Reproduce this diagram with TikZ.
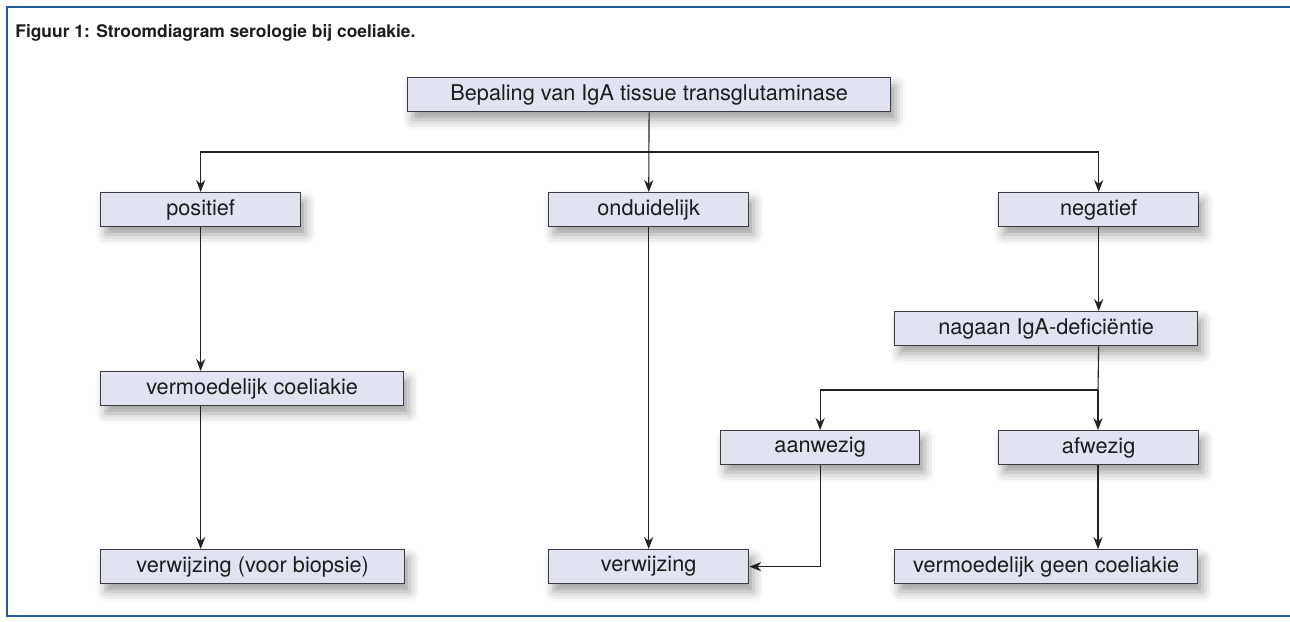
\documentclass[tikz,border=0pt]{standalone}
\usepackage{fontspec}
\setmainfont{TeX Gyre Heros}
\usepackage{tikz}
\usetikzlibrary{positioning,arrows.meta,shadows.blur}

\definecolor{boxfill}{RGB}{225,227,240}
\definecolor{boxline}{RGB}{60,60,62}
\definecolor{frameblue}{RGB}{36,94,160}
\definecolor{linegray}{RGB}{35,35,35}
\definecolor{textgray}{RGB}{28,28,28}

\begin{document}
\begin{tikzpicture}[
    x=0.5pt, y=-0.5pt,
    stage/.style={draw=boxline, fill=boxfill, line width=0.65pt, text=textgray,
                  anchor=north west, inner sep=0pt, minimum height=17pt,
                  font=\fontsize{10.85}{13}\selectfont,
                  blur shadow={shadow xshift=2.5pt, shadow yshift=-4pt,
                               shadow blur radius=5pt, shadow opacity=38}},
    flow/.style={-{Stealth[length=6pt,width=4.6pt]}, line width=0.55pt, linegray},
    link/.style={line width=0.55pt, linegray},
    frame/.style={frameblue, line width=1.1pt}
]
\useasboundingbox (0,0) rectangle (1290,621);

% Frame and caption
\draw[frame] (1290,7) -- (7,7) -- (7,616) -- (1290,616);
\node[anchor=base west, inner sep=0pt, text=textgray,
      font=\fontsize{8.7}{10}\selectfont\bfseries]
    (caption) at (15,37) {Figuur 1: Stroomdiagram serologie bij coeliakie.};

% Test
\node[stage, minimum width=241.5pt] (test) at (407,77) {Bepaling van IgA tissue transglutaminase};

% Results
\node[stage, minimum width=100pt] (pos) at (100,192) {positief};
\node[stage, minimum width=100pt] (unclear) at (548,192) {onduidelijk};
\node[stage, minimum width=100pt] (neg) at (998,192) {negatief};

% Follow-up
\node[stage, minimum width=151.5pt] (probable) at (100,371) {vermoedelijk coeliakie};
\node[stage, minimum width=151.5pt] (igacheck) at (894,311) {nagaan IgA-deficiëntie};
\node[stage, minimum width=99.5pt] (present) at (720,430) {aanwezig};
\node[stage, minimum width=100pt] (absent) at (998,430) {afwezig};

% Outcomes
\node[stage, minimum width=152pt] (biopsy) at (100,549) {verwijzing (voor biopsie)};
\node[stage, minimum width=100pt] (refer) at (548,549) {verwijzing};
\node[stage, minimum width=151.5pt] (noceliac) at (894,549) {vermoedelijk geen coeliakie};

% Split points
\coordinate (split1) at (648,152);
\coordinate (split2) at (1098,390);

% Forward flows
\draw[flow] (test) -- (unclear);
\draw[flow] (split1) -| (pos.north);
\draw[flow] (split1) -| (neg.north);
\draw[flow] (pos) -- (pos |- probable.north);
\draw[flow] (probable.south -| pos) -- (biopsy.north -| pos);
\draw[flow] (unclear) -- (refer);
\draw[flow] (neg) -- (igacheck.north -| neg);
\draw[link] (igacheck.south -| neg) -- (split2);
\draw[flow] (split2) -| (present.north);
\draw[flow] (split2) -- (absent.north -| split2);
\draw[flow] (absent.south -| split2) -- (noceliac.north -| split2);
\draw[flow] (present.south) |- (refer.east);

\end{tikzpicture}
\end{document}
